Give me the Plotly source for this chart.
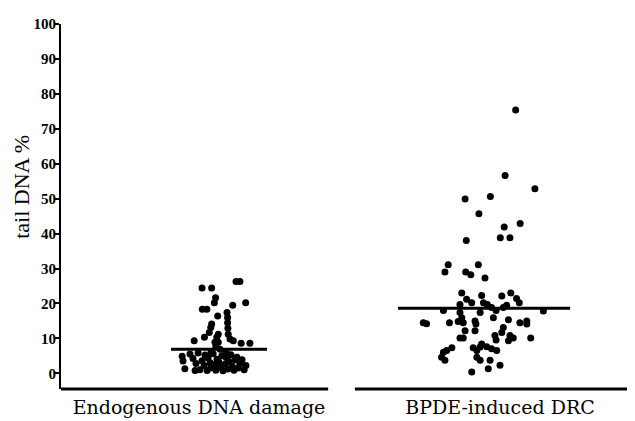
import plotly.graph_objects as go

# ---------------- data ----------------
categories = ["Endogenous DNA damage", "BPDE-induced DRC"]

endogenous_values = [
    26.3, 26.3, 24.4, 24.4, 21.6, 20.2, 20.2, 19.5, 18.3, 18.3, 16.4, 17.4, 16.0, 14.5, 12.9,
    14.1, 13.1, 11.7, 11.2, 10.3, 9.3, 11.2, 9.8, 9.3, 10.3, 8.9, 8.9, 8.6, 8.6, 7.6, 6.9,
    4.9, 3.5, 1.3, 5.5, 4.2, 2.8, 5.8, 1.0, 3.6, 2.2, 5.2, 0.8, 4.4, 3.0, 1.6, 5.6, 2.5, 0.9,
    4.0, 3.2, 1.8, 5.0, 0.7, 2.6, 4.5, 1.2, 3.4, 5.3, 2.0, 0.9, 3.8, 4.6, 1.5, 2.7, 3.9, 1.0,
    2.2, 0.8, 6.0, 6.2,
]
endogenous_jitter = [
    0.123, 0.136, 0.010, 0.042, 0.055, 0.051, 0.155, 0.112, 0.011, 0.026, 0.062, 0.093, 0.095, 0.095, 0.096,
    0.042, 0.039, 0.034, 0.064, 0.018, -0.016, 0.097, 0.103, 0.114, 0.059, 0.053, 0.064, 0.140, 0.169, 0.056, 0.070,
    -0.056, -0.053, -0.047, -0.030, -0.020, -0.010, -0.003, 0.003, 0.010, 0.017, 0.020, 0.027, 0.030, 0.037, 0.040, 0.047, 0.050, 0.056,
    0.060, 0.066, 0.070, 0.076, 0.080, 0.086, 0.090, 0.096, 0.100, 0.106, 0.110, 0.116, 0.120, 0.126, 0.130, 0.136, 0.143, 0.150,
    0.156, -0.013, 0.040, 0.090,
]

bpde_values = [
    75.4, 56.6, 52.8, 49.9, 50.6, 45.7, 42.9, 41.9, 38.8, 38.8, 38.0,
    31.1, 29.0, 31.1, 29.0, 28.2, 27.3,
    23.0, 22.3, 22.1, 23.0, 21.4, 20.2, 21.2, 20.2, 19.7, 20.2, 19.7, 19.5, 18.8, 18.8, 18.0, 18.0, 17.8, 17.4,
    14.5, 14.2, 14.5, 17.4, 15.9, 14.8, 14.5, 15.0, 14.1, 12.2, 15.9, 15.3, 14.5, 15.0, 14.1, 12.2, 10.1, 13.1, 11.7,
    10.8, 9.5, 10.8, 9.3, 10.1, 10.1, 10.1,
    8.4, 7.5, 7.6, 7.0, 7.3, 6.5, 6.5, 7.3, 6.5, 6.0, 4.6, 3.7, 4.6, 3.7, 3.7, 2.3, 1.3, 0.4,
]
bpde_jitter = [
    0.052, 0.017, 0.116, -0.116, -0.032, -0.070, 0.067, 0.014, 0.001, 0.033, -0.112,
    -0.172, -0.183, -0.072, -0.114, -0.097, -0.050,
    -0.127, -0.061, 0.006, 0.036, 0.055, 0.064, -0.111, -0.094, -0.133, -0.055, -0.042, 0.022, 0.011, -0.028, -0.013, -0.188, 0.144, -0.066,
    -0.255, -0.244, -0.168, -0.133, -0.127, -0.139, -0.122, -0.083, -0.080, -0.083, -0.022, 0.028, 0.066, 0.089, 0.089, -0.116, -0.122, 0.011, 0.006,
    -0.017, -0.013, 0.033, 0.028, 0.044, -0.133, 0.102,
    -0.061, -0.066, -0.044, -0.028, -0.089, -0.077, -0.011, -0.160, -0.177, -0.188, -0.194, -0.183, -0.077, -0.066, -0.033, 0.000, -0.039, -0.094,
]

group_means = [6.9, 18.6]
mean_line_extent = [(-0.093, 0.226), (-0.339, 0.233)]

y_ticks = list(range(0, 101, 10))
y_title = "tail DNA %"

# ---------------- figure ----------------
fig = go.Figure()

groups = [(endogenous_values, endogenous_jitter), (bpde_values, bpde_jitter)]
for i, (vals, jit) in enumerate(groups):
    pos = i + 1
    fig.add_trace(go.Scatter(
        x=[pos + j for j in jit], y=vals, mode="markers",
        marker=dict(color="black", size=7, line=dict(width=0)),
        showlegend=False, hoverinfo="y",
    ))
    lo, hi = mean_line_extent[i]
    fig.add_trace(go.Scatter(
        x=[pos + lo, pos + hi], y=[group_means[i], group_means[i]], mode="lines",
        line=dict(color="black", width=3), showlegend=False, hoverinfo="skip",
    ))

x_range = [0.5415, 2.4485]
# broken x axis (two segments)
segments = [(x_range[0], 1.429), (1.518, 2.445)]
for a, b in segments:
    fig.add_shape(type="line", xref="x", yref="paper", x0=a, x1=b, y0=0, y1=0,
                  line=dict(color="black", width=3))

fig.add_annotation(
    text=y_title, xref="paper", yref="paper", x=-0.068, y=0.554,
    xanchor="center", yanchor="middle", textangle=-90, showarrow=False,
    font=dict(family="Liberation Serif", size=22, color="black"),
)

fig.update_layout(
    width=635, height=421,
    margin=dict(l=53, r=8, t=11, b=40),
    paper_bgcolor="white", plot_bgcolor="white",
    xaxis=dict(
        range=x_range, showgrid=False, zeroline=False, showline=False,
        tickmode="array", tickvals=[1, 2], ticktext=categories, ticks="",
        ticklabelstandoff=5,
        tickfont=dict(family="DejaVu Serif", size=19, color="black"),
    ),
    yaxis=dict(
        range=[-4.5, 100], showgrid=False, zeroline=False, showline=True,
        linecolor="black", linewidth=2,
        tickmode="array", tickvals=y_ticks, ticks="outside", ticklen=4, tickwidth=2,
        tickcolor="black", ticklabelstandoff=-4,
        tickfont=dict(family="Liberation Serif", size=15, color="black", weight="bold"),
    ),
)

fig.write_html("out.html")
